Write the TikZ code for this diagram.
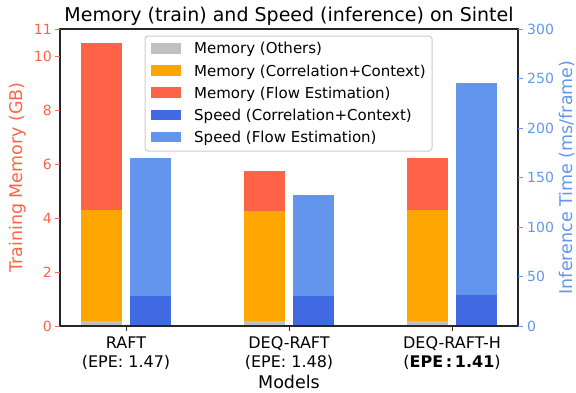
\documentclass[tikz,border=0pt]{standalone}
\usepackage{fontspec}
\setmainfont{DejaVu Sans}
\definecolor{tomatoc}{HTML}{FF6347}
\definecolor{orangec}{HTML}{FFA500}
\definecolor{silverc}{HTML}{C0C0C0}
\definecolor{royalc}{HTML}{4169E1}
\definecolor{cornc}{HTML}{6495ED}
\definecolor{spinec}{HTML}{262626}
\definecolor{legedge}{HTML}{CCCCCC}
\begin{document}
\begin{tikzpicture}[x=1pt,y=-1pt,
  spine/.style={draw=spinec, line width=1.3pt},
  ltick/.style={draw=tomatoc, line width=1pt},
  rtick/.style={draw=cornc, line width=1pt},
  xtick/.style={draw=spinec, line width=1pt},
  llab/.style={anchor=east, inner sep=0pt, text=tomatoc, font=\fontsize{14}{16}\selectfont},
  rlab/.style={anchor=west, inner sep=0pt, text=cornc, font=\fontsize{14}{16}\selectfont},
  xlab/.style={anchor=base, inner sep=0pt, font=\fontsize{16}{19}\selectfont},
  axlab/.style={inner sep=0pt, font=\fontsize{17.5}{20}\selectfont},
  legpatch/.style={minimum width=30pt, minimum height=10.5pt, inner sep=0pt},
  legtext/.style={anchor=base west, inner sep=0pt, font=\fontsize{15}{18}\selectfont}]
\useasboundingbox (0,0) rectangle (576,392);
% bars: memory (left axis, 27px per GB), speed (right axis, 0.99px per ms)
% RAFT
\fill[silverc] (81,326) rectangle (122,321.1);
\fill[orangec] (81,321.1) rectangle (122,209.9);
\fill[tomatoc] (81,209.9) rectangle (122,42.5);
\fill[royalc] (130,326) rectangle (171,296.3);
\fill[cornc] (130,296.3) rectangle (171,157.7);
% DEQ-RAFT
\fill[silverc] (244,326) rectangle (285,321.1);
\fill[orangec] (244,321.1) rectangle (285,211);
\fill[tomatoc] (244,211) rectangle (285,171);
\fill[royalc] (293,326) rectangle (334,296.3);
\fill[cornc] (293,296.3) rectangle (334,195.3);
% DEQ-RAFT-H
\fill[silverc] (407,326) rectangle (448,321.1);
\fill[orangec] (407,321.1) rectangle (448,209.9);
\fill[tomatoc] (407,209.9) rectangle (448,158);
\fill[royalc] (456,326) rectangle (497,295.3);
\fill[cornc] (456,295.3) rectangle (497,83.45);
% frame
\draw[spine] (60,29) rectangle (518,326);
% left ticks
\foreach \v in {0,2,4,6,8,10,11}{
  \draw[ltick] (55,326-27*\v) -- (60,326-27*\v);
  \node[llab] (lt\v) at (52,326-27*\v) {\v};
}
% right ticks
\foreach \v in {0,50,100,150,200,250,300}{
  \draw[rtick] (518,326-0.99*\v) -- (523,326-0.99*\v);
  \node[rlab] (rt\v) at (527,326-0.99*\v) {\v};
}
% x ticks
\foreach \c in {126,289,452}{
  \draw[xtick] (\c,326) -- (\c,331);
}
\node[xlab] (x1a) at (126,348) {RAFT};
\node[xlab] (x1b) at (126,367) {(EPE: 1.47)};
\node[xlab] (x2a) at (289,348) {DEQ-RAFT};
\node[xlab] (x2b) at (289,367) {(EPE: 1.48)};
\node[xlab] (x3a) at (452,348) {DEQ-RAFT-H};
\node[xlab] (x3b) at (452,367) {(\textbf{EPE\,:\,1.41})};
% axis labels
\node[axlab, anchor=base] (xl) at (289,388) {Models};
\node[axlab, rotate=90, text=tomatoc] (yl) at (18,177.5) {Training Memory (GB)};
\node[axlab, rotate=90, text=cornc] (yr) at (567,177.5) {Inference Time (ms/frame)};
% title
\node[anchor=base, inner sep=0pt, font=\fontsize{19}{22}\selectfont] (title) at (289,21) {Memory (train) and Speed (inference) on Sintel};
% legend
\draw[legedge, fill=white, fill opacity=0.8, line width=1pt, rounded corners=3pt] (145,36) rectangle (432,151);
\node[legpatch, fill=silverc] (p1) at (166,48.3) {};
\node[legpatch, fill=orangec] (p2) at (166,70.5) {};
\node[legpatch, fill=tomatoc] (p3) at (166,92.7) {};
\node[legpatch, fill=royalc] (p4) at (166,114.9) {};
\node[legpatch, fill=cornc] (p5) at (166,137.1) {};
\node[legtext] (t1) at (194,53.8) {Memory (Others)};
\node[legtext] (t2) at (194,76) {Memory (Correlation+Context)};
\node[legtext] (t3) at (194,98.2) {Memory (Flow Estimation)};
\node[legtext] (t4) at (194,120.4) {Speed (Correlation+Context)};
\node[legtext] (t5) at (194,142.6) {Speed (Flow Estimation)};
\end{tikzpicture}
\end{document}
